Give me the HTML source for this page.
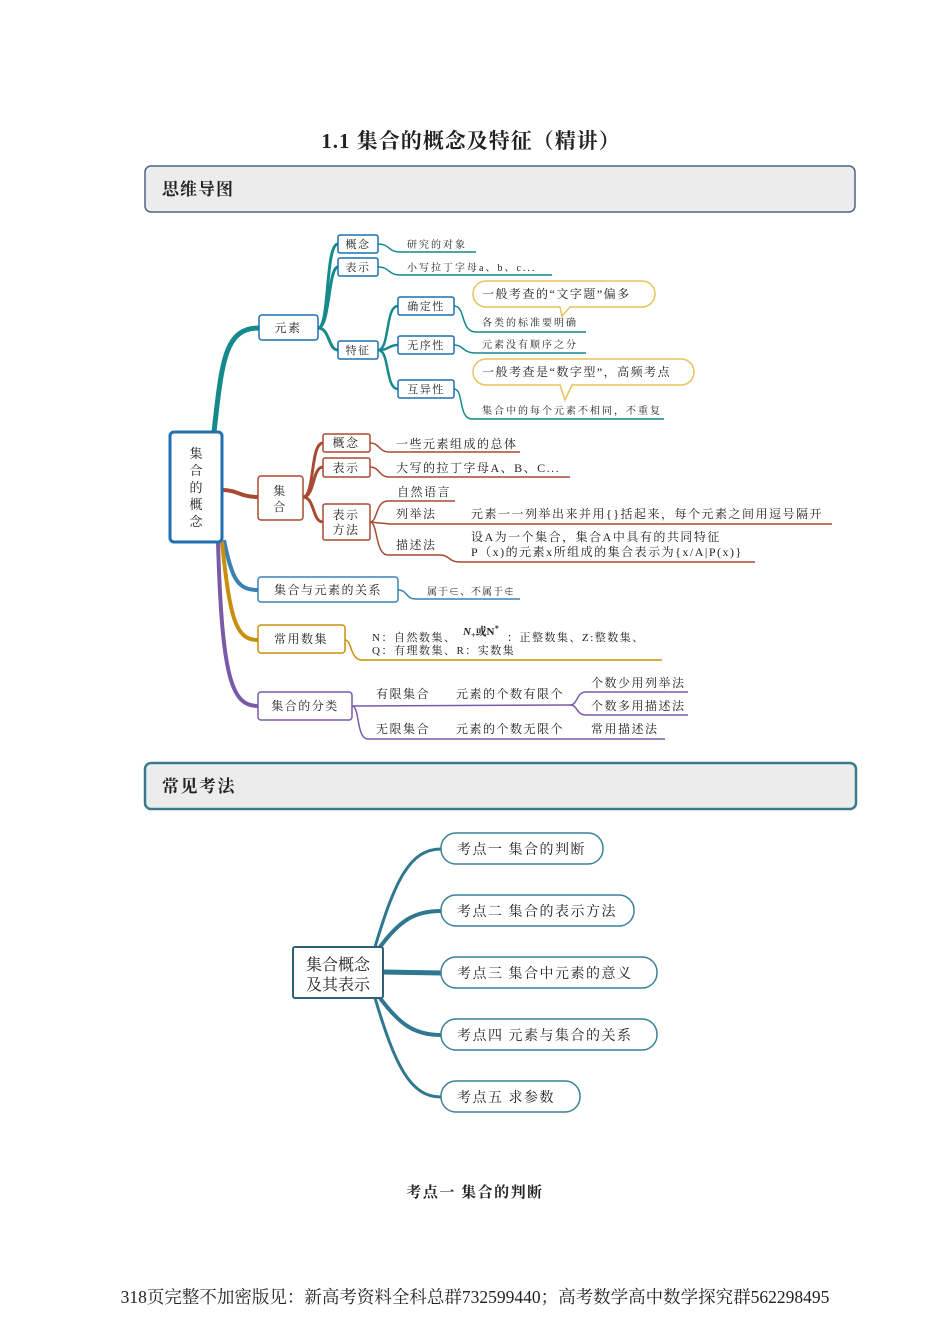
<!DOCTYPE html>
<html><head><meta charset="utf-8"><style>
html,body{margin:0;padding:0;background:#fff;}
svg{display:block;}
text{font-family:"Liberation Serif","Noto Serif CJK SC",serif;fill:#222;}
.s{font-size:11px;letter-spacing:1.5px;}
.m{font-size:12px;letter-spacing:1.5px;}
.t{font-size:10px;letter-spacing:2px;}
</style></head><body>
<svg width="950" height="1344" viewBox="0 0 950 1344" xmlns="http://www.w3.org/2000/svg">
<text x="471" y="148" text-anchor="middle" style="font-size:21px;font-weight:bold;letter-spacing:1px">1.1  集合的概念及特征（精讲）</text>
<rect x="145" y="166" width="710" height="46" rx="6" fill="#ececec" stroke="#4a6585" stroke-width="1.5"/>
<text x="162" y="195" style="font-size:17px;font-weight:bold;letter-spacing:1px">思维导图</text>

<!-- teal branches -->
<g fill="none" stroke="#148a8a">
<path d="M214 432 C222 360 225 328 259 328" stroke-width="5"/>
<path d="M318 328 C330 328 325 244 338 244" stroke-width="3"/>
<path d="M318 328 C330 328 328 267 338 267" stroke-width="3"/>
<path d="M318 328 C330 328 328 350 338 350" stroke-width="3"/>
<path d="M378 350 C390 350 385 306 398 306" stroke-width="2.5"/>
<path d="M378 350 C390 350 388 345 398 345" stroke-width="2.5"/>
<path d="M378 350 C390 350 385 389 398 389" stroke-width="2.5"/>
<path d="M378 244 C390 244 388 252 400 252 L476 252" stroke-width="1.5"/>
<path d="M378 267 C390 267 388 275 400 275 L552 275" stroke-width="1.5"/>
<path d="M454 306 C466 306 460 332 476 332 L586 332" stroke-width="1.5"/>
<path d="M454 345 C464 345 462 353 476 353 L586 353" stroke-width="1.5"/>
<path d="M454 389 C464 389 458 419 472 419 L664 419" stroke-width="1.5"/>
</g>
<g fill="#fff" stroke="#1f6fb0" stroke-width="1.5">
<rect x="259" y="315" width="59" height="25" rx="3"/>
<rect x="338" y="235" width="40" height="18" rx="2"/>
<rect x="338" y="258" width="40" height="18" rx="2"/>
<rect x="338" y="341" width="40" height="18" rx="2"/>
<rect x="398" y="297" width="56" height="18" rx="2"/>
<rect x="398" y="336" width="56" height="18" rx="2"/>
<rect x="398" y="380" width="56" height="18" rx="2"/>
</g>
<text x="288" y="332" text-anchor="middle" class="m">元素</text>
<text x="358" y="248" text-anchor="middle" class="s">概念</text>
<text x="358" y="271" text-anchor="middle" class="s">表示</text>
<text x="358" y="354" text-anchor="middle" class="s">特征</text>
<text x="426" y="310" text-anchor="middle" class="s">确定性</text>
<text x="426" y="349" text-anchor="middle" class="s">无序性</text>
<text x="426" y="393" text-anchor="middle" class="s">互异性</text>
<text x="407" y="248" class="t">研究的对象</text>
<text x="407" y="271" class="t">小写拉丁字母a、b、c...</text>
<text x="482" y="326" class="t">各类的标准要明确</text>
<text x="482" y="348" class="t">元素没有顺序之分</text>
<text x="482" y="414" class="t">集合中的每个元素不相同，不重复</text>
<g fill="#fff" stroke="#e8c25a" stroke-width="1.5">
<path d="M486 281 H642 a12 12 0 0 1 0 26 H570 L562 316 L560 307 H486 a12 12 0 0 1 0 -26 Z"/>
<path d="M486 359 H681 a12 12 0 0 1 0 26 H572 L565 400 L560 385 H486 a12 12 0 0 1 0 -26 Z"/>
</g>
<text x="482" y="298" class="m">一般考查的“文字题”偏多</text>
<text x="482" y="376" class="m">一般考查是“数字型”，高频考点</text>

<!-- brown -->
<g fill="none" stroke="#a84a32">
<path d="M222 490 C238 490 240 497 258 497" stroke-width="4"/>
<path d="M303 497 C315 497 310 443 323 443" stroke-width="3"/>
<path d="M303 497 C315 497 312 467 323 467" stroke-width="3"/>
<path d="M303 497 C315 497 312 522 323 522" stroke-width="3"/>
<path d="M370 443 C380 443 378 452 390 452 L520 452" stroke-width="1.5"/>
<path d="M370 467 C380 467 378 477 390 477 L570 477" stroke-width="1.5"/>
<path d="M370 522 C378 522 375 501 388 501 L455 501" stroke-width="1.5"/>
<path d="M370 522 L390 524 L832 524" stroke-width="1.5"/>
<path d="M370 522 C378 522 375 555 388 555 L440 555 C450 555 448 562 460 562 L755 562" stroke-width="1.5"/>
</g>
<g fill="#fff" stroke="#a84a32" stroke-width="1.5">
<rect x="258" y="476" width="45" height="44" rx="3"/>
<rect x="323" y="434" width="47" height="18" rx="2"/>
<rect x="323" y="458" width="47" height="19" rx="2"/>
<rect x="323" y="504" width="47" height="36" rx="2"/>
</g>
<text x="280" y="495" text-anchor="middle" class="m">集</text>
<text x="280" y="511" text-anchor="middle" class="m">合</text>
<text x="346" y="447" text-anchor="middle" class="m">概念</text>
<text x="346" y="472" text-anchor="middle" class="m">表示</text>
<text x="346" y="519" text-anchor="middle" class="m">表示</text>
<text x="346" y="534" text-anchor="middle" class="m">方法</text>
<text x="396" y="448" class="m">一些元素组成的总体</text>
<text x="396" y="472" class="m">大写的拉丁字母A、B、C...</text>
<text x="397" y="496" class="m">自然语言</text>
<text x="396" y="518" class="m">列举法</text>
<text x="471" y="518" class="m">元素一一列举出来并用{}括起来，每个元素之间用逗号隔开</text>
<text x="396" y="549" class="m">描述法</text>
<text x="471" y="541" class="m">设A为一个集合，集合A中具有的共同特征</text>
<text x="471" y="556" class="m">P（x)的元素x所组成的集合表示为{x/A|P(x)}</text>

<!-- blue / gold / purple -->
<g fill="none">
<path d="M224 540 C232 580 238 590 258 590" stroke="#3a82b4" stroke-width="4"/>
<path d="M398 590 C408 590 405 599 416 599 L520 599" stroke="#3a82b4" stroke-width="1.5"/>
<path d="M222 542 C230 620 236 640 258 640" stroke="#c8900a" stroke-width="4"/>
<path d="M345 640 C352 640 350 660 362 660 L662 660" stroke="#c8900a" stroke-width="1.5"/>
<path d="M218 542 C222 680 232 706 258 706" stroke="#7a5aa8" stroke-width="4"/>
<path d="M352 706 L570 705 C578 705 576 692 586 692 L688 692" stroke="#7a5aa8" stroke-width="1.5"/>
<path d="M570 705 C578 705 576 715 586 715 L688 715" stroke="#7a5aa8" stroke-width="1.5"/>
<path d="M352 706 C360 706 356 739 368 739 L665 739" stroke="#7a5aa8" stroke-width="1.5"/>
</g>
<rect x="258" y="577" width="140" height="25" rx="3" fill="#fff" stroke="#3a82b4" stroke-width="1.5"/>
<rect x="258" y="625" width="87" height="28" rx="3" fill="#fff" stroke="#c8900a" stroke-width="1.5"/>
<rect x="258" y="692" width="94" height="28" rx="3" fill="#fff" stroke="#7a5aa8" stroke-width="1.5"/>
<text x="328" y="594" text-anchor="middle" class="m">集合与元素的关系</text>
<text x="301" y="643" text-anchor="middle" class="m">常用数集</text>
<text x="305" y="710" text-anchor="middle" class="m">集合的分类</text>
<text x="427" y="595" class="t" style="letter-spacing:1px">属于∈、不属于∉</text>
<text x="372" y="641" class="s">N：自然数集、</text>
<text x="463" y="635" style="font-size:11px;font-style:italic;font-weight:bold">N<tspan style="font-size:8px" dy="3">+</tspan><tspan dy="-3" style="font-style:normal">或N</tspan><tspan style="font-size:8px" dy="-4">*</tspan></text>
<text x="507" y="641" class="s">：正整数集、Z:整数集、</text>
<text x="372" y="654" class="s">Q：有理数集、R：实数集</text>
<text x="376" y="698" class="m">有限集合</text>
<text x="456" y="698" class="m">元素的个数有限个</text>
<text x="591" y="687" class="m">个数少用列举法</text>
<text x="591" y="710" class="m">个数多用描述法</text>
<text x="376" y="733" class="m">无限集合</text>
<text x="456" y="733" class="m">元素的个数无限个</text>
<text x="591" y="733" class="m">常用描述法</text>

<!-- root -->
<rect x="170" y="432" width="52" height="110" rx="4" fill="#fff" stroke="#1f6fb5" stroke-width="3"/>
<g style="font-size:13px" text-anchor="middle">
<text x="196" y="458">集</text><text x="196" y="475">合</text><text x="196" y="492">的</text><text x="196" y="509">概</text><text x="196" y="526">念</text>
</g>

<!-- header 2 -->
<rect x="145" y="763" width="711" height="46" rx="6" fill="#ececec" stroke="#3a7a8a" stroke-width="2.5"/>
<text x="162" y="792" style="font-size:17px;font-weight:bold;letter-spacing:1.5px">常见考法</text>

<!-- bottom map -->
<g fill="none" stroke="#2f7890">
<path d="M375 947 C395 880 410 849 441 849" stroke-width="3"/>
<path d="M380 947 C400 920 415 911 441 911" stroke-width="4"/>
<path d="M383 972 L441 973" stroke-width="5"/>
<path d="M380 998 C400 1025 415 1035 441 1035" stroke-width="4"/>
<path d="M375 998 C395 1065 410 1097 441 1097" stroke-width="3"/>
</g>
<rect x="293" y="947" width="90" height="51" rx="2" fill="#fff" stroke="#2f5f75" stroke-width="2"/>
<text x="338" y="970" text-anchor="middle" style="font-size:16px">集合概念</text>
<text x="338" y="990" text-anchor="middle" style="font-size:16px">及其表示</text>
<g fill="#fff" stroke="#3a8098" stroke-width="1.5">
<rect x="441" y="833" width="162" height="31" rx="15"/>
<rect x="441" y="895" width="193" height="31" rx="15"/>
<rect x="441" y="957" width="216" height="31" rx="15"/>
<rect x="441" y="1019" width="216" height="31" rx="15"/>
<rect x="441" y="1081" width="139" height="31" rx="15"/>
</g>
<g style="font-size:14px;letter-spacing:1.5px">
<text x="457" y="854">考点一  集合的判断</text>
<text x="457" y="916">考点二  集合的表示方法</text>
<text x="457" y="978">考点三   集合中元素的意义</text>
<text x="457" y="1040">考点四   元素与集合的关系</text>
<text x="457" y="1102">考点五   求参数</text>
</g>
<text x="475" y="1197" text-anchor="middle" style="font-size:15px;font-weight:bold;letter-spacing:1.5px">考点一  集合的判断</text>
<text x="475" y="1303" text-anchor="middle" style="font-size:17.5px">318页完整不加密版见：新高考资料全科总群732599440；高考数学高中数学探究群562298495</text>
</svg>
</body></html>
